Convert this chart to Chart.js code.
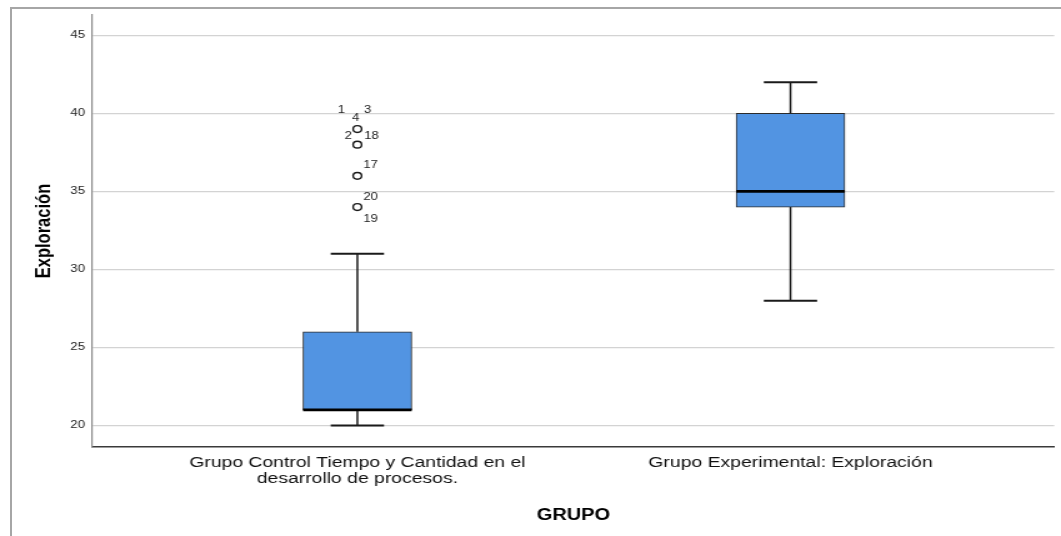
<!DOCTYPE html>
<html lang="es">
<head>
<meta charset="utf-8">
<title>Exploración por grupo</title>
<script src="https://cdn.jsdelivr.net/npm/chart.js@4.4.1/dist/chart.umd.min.js"></script>
<style>
  html, body { margin: 0; padding: 0; background: #fff; }
  #graficaExploracion { position: absolute; left: 0; top: 0; transform: scaleX(1.2497); transform-origin: 0 0; }
  #marco { position: absolute; left: 10px; top: 7px; width: 1100px; height: 600px;
           border-top: 2px solid #a6a6a6; border-left: 2px solid #a6a6a6; pointer-events: none; }
</style>
</head>
<body>
<canvas id="graficaExploracion" width="849" height="536"></canvas>
<div id="marco"></div>
<script>
// 🔹 DATOS
const grupos = [
  ["Grupo Control Tiempo y Cantidad en el", "desarrollo de procesos."],
  ["Grupo Experimental: Exploración"]
];
const posicionGrupo = [1, 2];
const bigoteInferior = [20, 28];
const cuartil1 = [21, 34];
const mediana = [21, 35];
const cuartil3 = [26, 40];
const bigoteSuperior = [31, 42];

// atípicos del grupo control: valor y número de caso
const atipicosValor = [39, 38, 36, 34];
const atipicosCasos = [["1", "3", "4"], ["2", "18"], ["17"], ["20", "19"]];

const ticksY = [20, 25, 30, 35, 40, 45];

// desplazamiento de cada etiqueta de caso respecto al círculo (px)
const desplazamientoCasos = [
  [[-12.8, -19], [8.2, -19], [-1.2, -11]],
  [[-7.2, -9], [11.4, -9]],
  [[10.6, -11]],
  [[10.6, -9.5], [10.6, 12]]
];

Chart.defaults.font.family = '"Liberation Sans", Arial, sans-serif';
Chart.defaults.color = '#222';

// 🔹 BIGOTES, MEDIANA Y ETIQUETAS DE CASOS
const cajaExtras = {
  id: 'cajaExtras',
  afterDatasetsDraw(chart) {
    const { ctx } = chart;
    const x = chart.scales.x;
    const y = chart.scales.y;
    const cajas = chart.getDatasetMeta(0).data;

    ctx.save();
    ctx.lineCap = 'butt';

    const linea = (x1, y1, x2, y2) => {
      ctx.beginPath();
      ctx.moveTo(x1, y1);
      ctx.lineTo(x2, y2);
      ctx.stroke();
    };

    posicionGrupo.forEach((pos, i) => {
      const cx = x.getPixelForValue(pos);
      const mitad = cajas[i].width / 2;
      const tapa = mitad * 0.49;

      const yBajo = y.getPixelForValue(bigoteInferior[i]);
      const yQ1 = y.getPixelForValue(cuartil1[i]);
      const yMed = y.getPixelForValue(mediana[i]);
      const yQ3 = y.getPixelForValue(cuartil3[i]);
      const yAlto = y.getPixelForValue(bigoteSuperior[i]);

      ctx.strokeStyle = '#1a1a1a';
      ctx.lineWidth = 1.5;
      linea(cx, yQ3, cx, yAlto);
      linea(cx, yQ1, cx, yBajo);

      ctx.lineWidth = 2;
      linea(cx - tapa, yAlto, cx + tapa, yAlto);
      linea(cx - tapa, yBajo, cx + tapa, yBajo);

      ctx.strokeStyle = '#000';
      ctx.lineWidth = 2.8;
      linea(cx - mitad, yMed, cx + mitad, yMed);
    });

    // números de caso junto a los atípicos
    ctx.fillStyle = '#222';
    ctx.font = '10.5px "Liberation Sans", Arial, sans-serif';
    ctx.textAlign = 'center';
    ctx.textBaseline = 'middle';
    const cx0 = x.getPixelForValue(posicionGrupo[0]);
    atipicosValor.forEach((v, i) => {
      const py = y.getPixelForValue(v);
      atipicosCasos[i].forEach((caso, j) => {
        const [dx, dy] = desplazamientoCasos[i][j];
        ctx.fillText(caso, cx0 + dx, py + dy);
      });
    });

    ctx.restore();
  }
};

// 🔹 GRÁFICA
const ctx = document.getElementById('graficaExploracion').getContext('2d');

const grafica = new Chart(ctx, {
  type: 'bar',
  data: {
    datasets: [
      {
        type: 'bar',
        data: posicionGrupo.map((p, i) => ({ x: p, y: [cuartil1[i], cuartil3[i]] })),
        backgroundColor: '#5294e2',
        borderColor: '#2b2b2b',
        borderWidth: 1,
        borderSkipped: false,
        barThickness: 87
      },
      {
        type: 'scatter',
        data: atipicosValor.map(v => ({ x: posicionGrupo[0], y: v })),
        pointStyle: 'circle',
        pointRadius: 3.4,
        pointBorderWidth: 1.4,
        pointBorderColor: '#1a1a1a',
        pointBackgroundColor: 'rgba(255,255,255,0)',
        showLine: false
      }
    ]
  },
  options: {
    responsive: false,
    animation: false,
    events: [],
    layout: { padding: { top: 15, right: 2, left: 0, bottom: 0 } },
    plugins: {
      legend: { display: false },
      tooltip: { enabled: false }
    },
    scales: {
      x: {
        type: 'linear',
        min: 0.3884,
        max: 2.609,
        offset: false,
        grid: { display: false, offset: false, drawTicks: false },
        border: { display: true, color: '#3a3a3a', width: 1.5 },
        afterBuildTicks: (scale) => {
          scale.ticks = posicionGrupo.map(v => ({ value: v }));
        },
        afterFit: (scale) => { scale.height = 89; },
        ticks: {
          autoSkip: false,
          maxRotation: 0,
          minRotation: 0,
          padding: 8,
          color: '#111',
          font: { size: 15.5, lineHeight: '16px' },
          callback: (valor, i) => grupos[i]
        },
        title: {
          display: true,
          text: 'GRUPO',
          color: '#000',
          font: { size: 16, weight: 'bold' },
          padding: { top: 0, bottom: 11 }
        }
      },
      y: {
        min: 18.62,
        max: 46.31,
        grid: { display: true, drawTicks: false, color: '#d3d3d3', lineWidth: 1.3 },
        border: { display: true, color: '#8a8a8a', width: 1.2 },
        afterBuildTicks: (scale) => {
          scale.ticks = ticksY.map(v => ({ value: v }));
        },
        afterFit: (scale) => { scale.width = 74; },
        ticks: {
          padding: 6,
          color: '#222',
          font: { size: 10.5 }
        },
        title: {
          display: true,
          text: 'Exploración',
          color: '#000',
          font: { size: 16.5, weight: 'bold' },
          padding: { top: 26, bottom: 0 }
        }
      }
    }
  },
  plugins: [cajaExtras]
});
</script>
</body>
</html>
